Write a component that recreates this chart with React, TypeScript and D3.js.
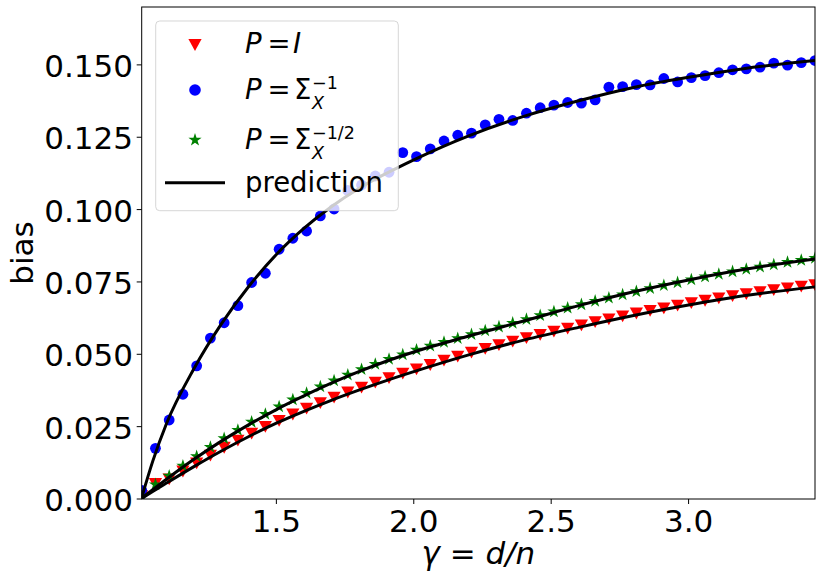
import React from "react";
import * as d3 from "d3";

// gamma = d/n values of the simulated runs
const gammas = [
  1.01, 1.06, 1.11, 1.16, 1.21, 1.26, 1.31, 1.36, 1.41, 1.46,
  1.51, 1.56, 1.61, 1.66, 1.71, 1.76, 1.81, 1.86, 1.91, 1.96,
  2.01, 2.06, 2.11, 2.16, 2.21, 2.26, 2.31, 2.36, 2.41, 2.46,
  2.51, 2.56, 2.61, 2.66, 2.71, 2.76, 2.81, 2.86, 2.91, 2.96,
  3.01, 3.06, 3.11, 3.16, 3.21, 3.26, 3.31, 3.36, 3.41, 3.46,
];

// P = I
const biasIdentity = [
  0.0010, 0.0052, 0.0068, 0.0095, 0.0123, 0.0150, 0.0177, 0.0202, 0.0226, 0.0249,
  0.0270, 0.0292, 0.0312, 0.0331, 0.0350, 0.0368, 0.0385, 0.0402, 0.0418, 0.0433,
  0.0448, 0.0463, 0.0478, 0.0492, 0.0506, 0.0519, 0.0532, 0.0544, 0.0556, 0.0567,
  0.0578, 0.0589, 0.0600, 0.0611, 0.0621, 0.0631, 0.0641, 0.0650, 0.0659, 0.0668,
  0.0677, 0.0685, 0.0693, 0.0701, 0.0708, 0.0715, 0.0722, 0.0728, 0.0734, 0.0739,
];

// P = Sigma_X^-1
const biasInverse = [
  0.0030, 0.0175, 0.0273, 0.0362, 0.0460, 0.0556, 0.0609, 0.0668, 0.0748, 0.0780,
  0.0863, 0.0901, 0.0926, 0.0978, 0.1002, 0.1066, 0.1085, 0.1116, 0.1129, 0.1197,
  0.1183, 0.1210, 0.1237, 0.1257, 0.1264, 0.1293, 0.1312, 0.1308, 0.1333, 0.1352,
  0.1361, 0.1370, 0.1368, 0.1379, 0.1423, 0.1425, 0.1432, 0.1431, 0.1453, 0.1441,
  0.1456, 0.1463, 0.1473, 0.1483, 0.1486, 0.1492, 0.1506, 0.1499, 0.1508, 0.1515,
];

// P = Sigma_X^-1/2
const biasInvSqrt = [
  0.0008, 0.0050, 0.0080, 0.0114, 0.0147, 0.0179, 0.0209, 0.0238, 0.0266, 0.0293,
  0.0319, 0.0343, 0.0366, 0.0388, 0.0409, 0.0429, 0.0448, 0.0466, 0.0483, 0.0499,
  0.0515, 0.0529, 0.0542, 0.0555, 0.0569, 0.0582, 0.0595, 0.0608, 0.0621, 0.0634,
  0.0647, 0.0660, 0.0672, 0.0684, 0.0695, 0.0706, 0.0717, 0.0728, 0.0738, 0.0748,
  0.0758, 0.0768, 0.0777, 0.0786, 0.0794, 0.0802, 0.0810, 0.0818, 0.0825, 0.0832,
];

// theoretical prediction curves
const predGammas = [
  1.01, 1.05, 1.1, 1.2, 1.3, 1.4, 1.5, 1.6, 1.7, 1.8,
  1.9, 2.0, 2.2, 2.4, 2.6, 2.8, 3.0, 3.2, 3.46,
];
const predIdentity = [
  0.0002, 0.0026, 0.0055, 0.0112, 0.0166, 0.0216, 0.0262, 0.0303, 0.0341, 0.0376,
  0.0409, 0.0440, 0.0498, 0.0549, 0.0593, 0.0634, 0.0670, 0.0702, 0.0733,
];
const predInverse = [
  0.0005, 0.0130, 0.0260, 0.0450, 0.0605, 0.0735, 0.0845, 0.0935, 0.1010, 0.1073,
  0.1125, 0.1172, 0.1255, 0.1322, 0.1376, 0.1422, 0.1457, 0.1487, 0.1515,
];
const predInvSqrt = [
  0.0003, 0.0032, 0.0068, 0.0137, 0.0200, 0.0257, 0.0309, 0.0356, 0.0400, 0.0440,
  0.0476, 0.0508, 0.0563, 0.0615, 0.0668, 0.0716, 0.0757, 0.0793, 0.0829,
];

const xTicks = [1.5, 2.0, 2.5, 3.0];
const yTicks = [0, 0.025, 0.05, 0.075, 0.1, 0.125, 0.15];

const width = 822;
const height = 581;
const plot = { left: 141.7, right: 815, top: 7, bottom: 499 };
const font = "DejaVu Sans, sans-serif";

const triangleDown = "M-6.6,-5.9L6.6,-5.9L0,5.9Z";
const star = d3.symbol(d3.symbolStar, 54)() as string;

export default function App() {
  const x = d3.scaleLinear().domain([1.01, 3.46]).range([plot.left, plot.right]);
  const y = d3.scaleLinear().domain([0, 0.17]).range([plot.bottom, plot.top]);

  const line = d3
    .line<[number, number]>()
    .x((d) => x(d[0]))
    .y((d) => y(d[1]))
    .curve(d3.curveMonotoneX);

  const preds = [predIdentity, predInverse, predInvSqrt].map((vals) =>
    line(predGammas.map((g, i) => [g, vals[i]] as [number, number]))
  );

  const mathItalic = { fontStyle: "italic" } as const;
  const subSize = 17.5;

  return (
    <svg
      width={width}
      height={height}
      style={{ position: "absolute", left: 0, top: 0, background: "#fff" }}
      fontFamily={font}
    >
      <defs>
        <clipPath id="plot-clip">
          <rect
            x={plot.left}
            y={plot.top}
            width={plot.right - plot.left}
            height={plot.bottom - plot.top}
          />
        </clipPath>
      </defs>

      <g clipPath="url(#plot-clip)">
        {gammas.map((g, i) => (
          <path
            key={"r" + i}
            d={triangleDown}
            transform={`translate(${x(g)},${y(biasIdentity[i])})`}
            fill="#ff0000"
          />
        ))}
        {gammas.map((g, i) => (
          <circle key={"b" + i} cx={x(g)} cy={y(biasInverse[i])} r={5.4} fill="#0000ff" />
        ))}
        {gammas.map((g, i) => (
          <path
            key={"g" + i}
            d={star}
            transform={`translate(${x(g)},${y(biasInvSqrt[i])})`}
            fill="#008000"
          />
        ))}
        {preds.map((d, i) => (
          <path key={"p" + i} d={d ?? ""} fill="none" stroke="#000" strokeWidth={3} />
        ))}
      </g>

      {/* spines */}
      <rect
        x={plot.left}
        y={plot.top}
        width={plot.right - plot.left}
        height={plot.bottom - plot.top}
        fill="none"
        stroke="#000"
        strokeWidth={1}
      />

      {/* x axis */}
      {xTicks.map((t) => (
        <g key={"xt" + t}>
          <line x1={x(t)} x2={x(t)} y1={plot.bottom} y2={plot.bottom + 5} stroke="#000" />
          <text x={x(t)} y={531.5} textAnchor="middle" fontSize={31}>
            {d3.format(".1f")(t)}
          </text>
        </g>
      ))}
      <text x={(plot.left + plot.right) / 2} y={564} textAnchor="middle" fontSize={31}>
        <tspan style={mathItalic}>γ</tspan>
        <tspan> = </tspan>
        <tspan style={mathItalic}>d</tspan>
        <tspan style={mathItalic}>/</tspan>
        <tspan style={mathItalic}>n</tspan>
      </text>

      {/* y axis */}
      {yTicks.map((t) => (
        <g key={"yt" + t}>
          <line x1={plot.left - 5} x2={plot.left} y1={y(t)} y2={y(t)} stroke="#000" />
          <text x={133} y={y(t) + 12} textAnchor="end" fontSize={31}>
            {d3.format(".3f")(t)}
          </text>
        </g>
      ))}
      <text
        transform={`translate(33,${(plot.top + plot.bottom) / 2}) rotate(-90)`}
        textAnchor="middle"
        fontSize={31}
      >
        bias
      </text>

      {/* legend */}
      <g>
        <rect
          x={155.7}
          y={21}
          width={242.6}
          height={189.7}
          rx={4}
          fill="#fff"
          fillOpacity={0.8}
          stroke="#cccccc"
          strokeOpacity={0.8}
        />
        <path d={triangleDown} transform="translate(195,45)" fill="#ff0000" />
        <circle cx={195} cy={90} r={5.8} fill="#0000ff" />
        <path d={star} transform="translate(195,140)" fill="#008000" />
        <line x1={165} x2={225} y1={182.7} y2={182.7} stroke="#000" strokeWidth={3} />

        <g fontSize={27.5}>
          <text x={245} y={53} style={mathItalic}>P</text>
          <text x={267.5} y={53}>=</text>
          <text x={293} y={53} style={mathItalic}>I</text>

          <text x={245} y={98.5} style={mathItalic}>P</text>
          <text x={267.5} y={98.5}>=</text>
          <text x={294} y={98.5}>Σ</text>
          <text x={312} y={88.5} fontSize={subSize}>−1</text>
          <text x={312} y={109} fontSize={subSize} style={mathItalic}>X</text>

          <text x={245} y={148.5} style={mathItalic}>P</text>
          <text x={267.5} y={148.5}>=</text>
          <text x={294} y={148.5}>Σ</text>
          <text x={312} y={138.5} fontSize={subSize}>−1/2</text>
          <text x={312} y={159} fontSize={subSize} style={mathItalic}>X</text>

          <text x={245} y={192}>prediction</text>
        </g>
      </g>
    </svg>
  );
}
